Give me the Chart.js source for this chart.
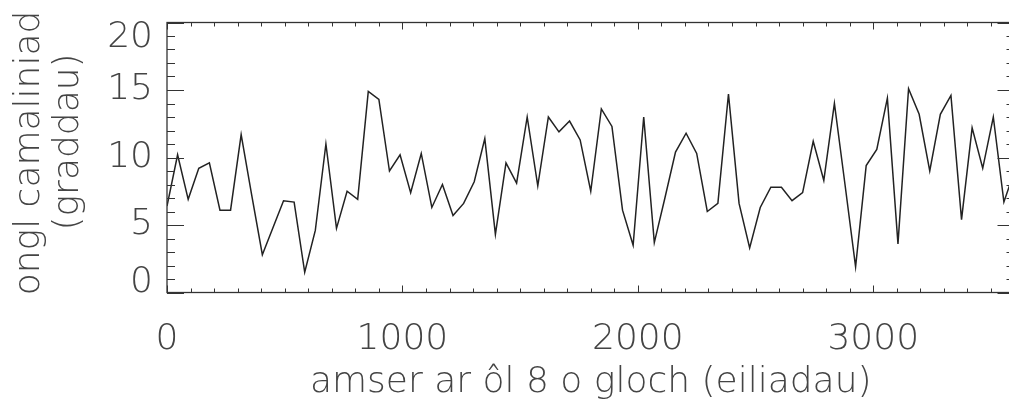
<!DOCTYPE html>
<html>
<head>
<meta charset="utf-8">
<script src="https://cdn.jsdelivr.net/npm/chart.js@4"></script>
<style>
  html, body { margin: 0; padding: 0; background: #fff; overflow: hidden; }
  canvas { display: block; }
</style>
</head>
<body>
<canvas id="myChart" width="1020" height="400"></canvas>
<script>
// sample times (s) and alignment angle (degrees)
let seconds = [0, 45, 90, 135, 180, 225, 270, 315, 360, 405, 450, 495, 540, 585, 630, 675, 720, 765, 810, 855,
  900, 945, 990, 1035, 1080, 1125, 1170, 1215, 1260, 1305, 1350, 1395, 1440, 1485, 1530, 1575, 1620, 1665, 1710, 1755,
  1800, 1845, 1890, 1935, 1980, 2025, 2070, 2115, 2160, 2205, 2250, 2295, 2340, 2385, 2430, 2475, 2520, 2565, 2610, 2655,
  2700, 2745, 2790, 2835, 2880, 2925, 2970, 3015, 3060, 3105, 3150, 3195, 3240, 3285, 3330, 3375, 3420, 3465, 3510, 3555,
  3600];
let angles = [6.4, 10.2, 6.9, 9.2, 9.6, 6.1, 6.1, 11.7, 7.2, 2.8, 4.8, 6.8, 6.7, 1.5, 4.6, 11.0, 4.75, 7.5, 6.9, 14.9,
  14.3, 9.0, 10.2, 7.4, 10.3, 6.3, 8.0, 5.7, 6.6, 8.2, 11.4, 4.3, 9.6, 8.1, 13.0, 7.9, 13.0, 11.9, 12.7, 11.3,
  7.5, 13.6, 12.3, 6.1, 3.5, 13.0, 3.7, 7.0, 10.4, 11.8, 10.3, 6.0, 6.6, 14.7, 6.6, 3.3, 6.3, 7.8, 7.8, 6.8,
  7.4, 11.2, 8.3, 14.0, 8.0, 1.9, 9.4, 10.6, 14.4, 3.6, 15.1, 13.2, 9.0, 13.2, 14.6, 5.4, 12.2, 9.2, 13.0, 6.7,
  9.0];
let xTicks = [0, 1000, 2000, 3000];
let yTicks = [0, 5, 10, 15, 20];
let xTitle = 'amser ar ôl 8 o gloch (eiliadau)';
let yTitle = ['ongl camaliniad', '(graddau)'];

const fontFamily = "'DejaVu Sans', sans-serif";
const ink = '#444';

// plot box with inward ticks on every side, plus the y labels and title
const frame = {
  id: 'frame',
  afterDatasetsDraw(chart) {
    const { ctx, chartArea: a, scales: { x, y } } = chart;
    ctx.save();
    ctx.strokeStyle = '#333';
    ctx.lineWidth = 1.3;
    ctx.strokeRect(a.left, a.top, a.right - a.left, a.bottom - a.top);

    ctx.beginPath();
    for (let v = 0; v <= 20; v++) {
      const py = Math.round(y.getPixelForValue(v)) + 0.5;
      const len = v % 5 === 0 ? 17 : 8;
      ctx.moveTo(a.left, py); ctx.lineTo(a.left + len, py);
      ctx.moveTo(a.right, py); ctx.lineTo(a.right - len, py);
    }
    for (let v = 0; v <= 3600; v += 100) {
      const px = Math.round(x.getPixelForValue(v)) + 0.5;
      const len = v % 1000 === 0 ? 7 : 4;
      ctx.moveTo(px, a.bottom); ctx.lineTo(px, a.bottom - len);
      ctx.moveTo(px, a.top); ctx.lineTo(px, a.top + len);
    }
    ctx.lineWidth = 1;
    ctx.stroke();

    ctx.fillStyle = ink;
    ctx.font = '200 36px ' + fontFamily;
    ctx.textAlign = 'right';
    ctx.textBaseline = 'middle';
    yTicks.forEach(v => {
      let py = y.getPixelForValue(v);
      py = Math.min(Math.max(py, a.top + 15), a.bottom - 10);
      ctx.fillText(String(v), a.left - 14, py);
    });

    ctx.textAlign = 'center';
    ctx.translate(30, 153);
    ctx.rotate(-Math.PI / 2);
    ctx.fillText(yTitle[0], 0, 0);
    ctx.fillText(yTitle[1], 11, 39);
    ctx.restore();
  }
};

let ctx = document.getElementById('myChart').getContext('2d');

let chart = new Chart(ctx, {
  type: 'line',
  data: {
    datasets: [{
      data: seconds.map((s, i) => ({ x: s, y: angles[i] })),
      borderColor: '#222',
      borderWidth: 1.5,
      pointRadius: 0,
      tension: 0,
      fill: false
    }]
  },
  options: {
    responsive: false,
    animation: false,
    layout: { padding: { left: 0, right: 5.5, top: 22.5, bottom: 0 } },
    plugins: { legend: { display: false }, tooltip: { enabled: false } },
    scales: {
      x: {
        type: 'linear',
        min: 0,
        max: 3600,
        afterBuildTicks: s => { s.ticks = xTicks.map(v => ({ value: v })); },
        afterFit: s => { s.height = 107.5; },
        grid: { display: false },
        border: { display: false },
        ticks: {
          color: ink,
          padding: 18,
          maxRotation: 0,
          callback: v => String(v),
          font: { family: fontFamily, size: 36, weight: 200 }
        },
        title: {
          display: true,
          text: xTitle,
          color: ink,
          padding: { top: 0, bottom: 0 },
          font: { family: fontFamily, size: 36, weight: 200, lineHeight: 0.95 }
        }
      },
      y: {
        min: 0,
        max: 20,
        afterFit: s => { s.width = 167; },
        grid: { display: false },
        border: { display: false },
        ticks: { display: false }
      }
    }
  },
  plugins: [frame]
});
</script>
</body>
</html>
